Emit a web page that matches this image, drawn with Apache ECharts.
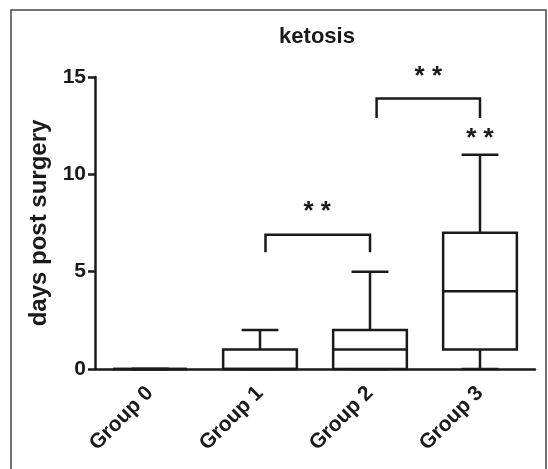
<!DOCTYPE html>
<html><head><meta charset="utf-8">
<script src="https://cdn.jsdelivr.net/npm/echarts@6/dist/echarts.min.js"></script>
<style>html,body{margin:0;padding:0;background:#fff}#c{width:548px;height:469px}</style>
</head><body><div id="c"></div>
<script>
const categories = ['Group 0', 'Group 1', 'Group 2', 'Group 3'];
const mins    = [0, 0, 0, 0];
const q1s     = [0, 0, 0, 1];
const medians = [0, 0, 1, 4];
const q3s     = [0, 1, 2, 7];
const maxs    = [0, 2, 5, 11];
const yTicks  = [0, 5, 10, 15];
// significance brackets: [from position, to position, top value, leg end value]
const brackets = [
  [1.05, 2, 6.9, 6.0],
  [2.06, 3, 13.9, 12.9]
];
// significance marks: [position, value, text]
const stars = [
  [1.52, 8.05, '* *'],
  [2.53, 15.0, '* *'],
  [3.0, 11.8, '* *']
];

const FONT = '"Liberation Sans", Arial, Helvetica, sans-serif';
const INK = '#1a1a1a';
const LW = 2.5;

const boxData = categories.map((c, i) => [i, mins[i], q1s[i], medians[i], q3s[i], maxs[i]]);

function renderBox(params, api) {
  const i = api.value(0);
  const band = api.size([1, 0])[0];
  const w = band * 0.67, cw = w / 2;
  const x = api.coord([i, 0])[0];
  const y = k => api.coord([i, api.value(k)])[1];
  const yMin = y(1), yQ1 = y(2), yMed = y(3), yQ3 = y(4), yMax = y(5);
  const ls = {stroke: INK, lineWidth: LW, fill: null};
  return {type: 'group', children: [
    {type: 'line', shape: {x1: x, y1: yQ3, x2: x, y2: yMax}, style: ls},
    {type: 'line', shape: {x1: x - cw / 2, y1: yMax, x2: x + cw / 2, y2: yMax}, style: ls},
    {type: 'line', shape: {x1: x, y1: yQ1, x2: x, y2: yMin}, style: ls},
    {type: 'line', shape: {x1: x - cw / 2, y1: yMin, x2: x + cw / 2, y2: yMin}, style: ls},
    {type: 'rect', shape: {x: x - w / 2, y: yQ3, width: w, height: yQ1 - yQ3}, style: {stroke: INK, lineWidth: LW, fill: '#fff'}},
    {type: 'line', shape: {x1: x - w / 2, y1: yMed, x2: x + w / 2, y2: yMed}, style: ls}
  ]};
}

function renderBracket(params, api) {
  const a = api.coord([api.value(0), api.value(3)]);
  const b = api.coord([api.value(0), api.value(2)]);
  const c = api.coord([api.value(1), api.value(2)]);
  const d = api.coord([api.value(1), api.value(3)]);
  return {type: 'polyline', shape: {points: [a, b, c, d]}, style: {stroke: INK, lineWidth: LW, fill: null}};
}

function renderStars(params, api) {
  const p = api.coord([api.value(0), api.value(1)]);
  return {type: 'text', x: p[0], y: p[1], style: {
    text: stars[params.dataIndex][2], textAlign: 'center', textVerticalAlign: 'middle',
    font: 'bold 26px ' + FONT, fill: INK
  }};
}

const chart = echarts.init(document.getElementById('c'), null, {renderer: 'canvas'});
chart.setOption({
  backgroundColor: '#fff',
  animation: false,
  title: {
    text: 'ketosis', left: 312, top: 21, textAlign: 'center',
    textStyle: {fontFamily: FONT, fontWeight: 'bold', fontSize: 22, color: INK}
  },
  graphic: [{
    type: 'rect', silent: true, z: -10,
    shape: {x: 11, y: 10, width: 535, height: 470},
    style: {fill: 'none', stroke: '#444', lineWidth: 1.5}
  }],
  grid: {left: 95, right: 13, top: 77, bottom: 100, containLabel: false},
  xAxis: [{
    type: 'category', data: categories,
    axisLine: {lineStyle: {color: INK, width: LW}},
    axisTick: {alignWithLabel: true, length: 8, lineStyle: {color: INK, width: LW}},
    axisLabel: {rotate: 45, margin: 21, color: INK, fontFamily: FONT, fontWeight: 'bold', fontSize: 21},
    splitLine: {show: false}
  }, {
    type: 'value', min: -0.5, max: 3.5, show: false
  }],
  yAxis: {
    type: 'value', min: yTicks[0], max: yTicks[yTicks.length - 1], interval: 5,
    name: 'days post surgery', nameLocation: 'middle', nameGap: 44,
    nameTextStyle: {fontFamily: FONT, fontWeight: 'bold', fontSize: 24, color: INK},
    axisLine: {show: true, onZero: false, lineStyle: {color: INK, width: LW}},
    axisTick: {show: true, length: 7, lineStyle: {color: INK, width: LW}},
    axisLabel: {margin: 9, color: INK, fontFamily: FONT, fontWeight: 'bold', fontSize: 21},
    splitLine: {show: false}
  },
  series: [{
    type: 'custom', xAxisIndex: 0, renderItem: renderBox,
    encode: {x: 0, y: [1, 2, 3, 4, 5]}, data: boxData, z: 3
  }, {
    type: 'custom', xAxisIndex: 1, renderItem: renderBracket,
    encode: {x: [0, 1], y: [2, 3]}, data: brackets, z: 3
  }, {
    type: 'custom', xAxisIndex: 1, renderItem: renderStars,
    encode: {x: 0, y: 1}, data: stars.map(s => [s[0], s[1]]), z: 3
  }]
});
</script></body></html>
